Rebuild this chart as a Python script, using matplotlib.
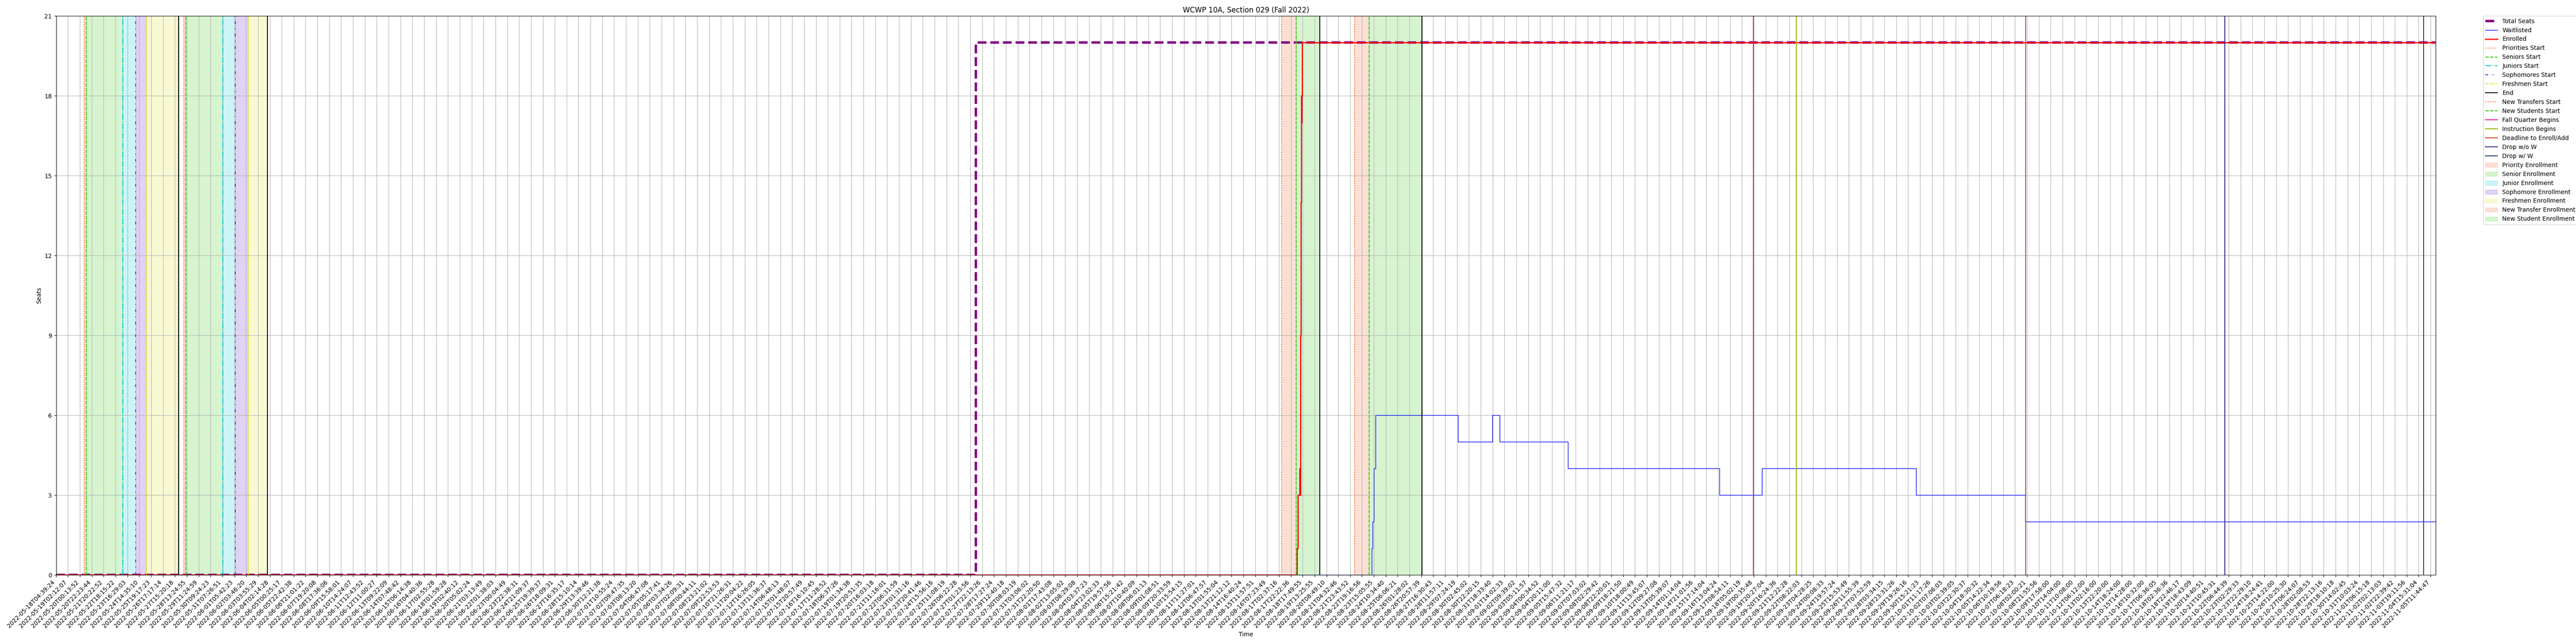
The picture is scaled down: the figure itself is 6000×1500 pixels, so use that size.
import numpy as np
import pandas as pd
import matplotlib
matplotlib.use('Agg')
import matplotlib.pyplot as plt


# one label per tick, the ticks are evenly spaced
tick_labels = [
    '2022-05-18T04:39:24', '2022-05-19T02:12:07', '2022-05-20T00:13:52', '2022-05-20T22:23:44',
    '2022-05-21T20:22:52', '2022-05-22T18:15:22', '2022-05-23T16:29:03', '2022-05-24T14:35:10',
    '2022-05-25T19:17:23', '2022-05-26T17:17:14', '2022-05-27T15:20:18', '2022-05-28T13:24:55',
    '2022-05-29T11:24:59', '2022-05-30T09:24:23', '2022-05-31T07:26:51', '2022-06-01T05:42:23',
    '2022-06-02T03:46:20', '2022-06-03T03:55:29', '2022-06-04T02:14:28', '2022-06-05T00:25:17',
    '2022-06-05T22:42:38', '2022-06-06T21:01:22', '2022-06-07T19:20:08', '2022-06-08T17:36:06',
    '2022-06-09T15:58:01', '2022-06-10T14:24:07', '2022-06-11T12:43:52', '2022-06-12T11:00:27',
    '2022-06-13T09:22:09', '2022-06-14T07:48:42', '2022-06-15T06:14:38', '2022-06-16T04:40:36',
    '2022-06-17T02:55:28', '2022-06-18T01:59:28', '2022-06-19T02:40:12', '2022-06-20T05:02:24',
    '2022-06-21T03:13:49', '2022-06-22T01:38:03', '2022-06-23T00:04:49', '2022-06-23T22:38:31',
    '2022-06-24T21:09:37', '2022-06-25T19:39:37', '2022-06-26T18:09:31', '2022-06-27T16:35:17',
    '2022-06-28T15:10:14', '2022-06-29T13:39:46', '2022-06-30T12:21:38', '2022-07-01T10:55:24',
    '2022-07-02T09:47:35', '2022-07-03T08:13:20', '2022-07-04T06:47:08', '2022-07-05T05:17:41',
    '2022-07-06T03:34:26', '2022-07-07T02:09:31', '2022-07-08T00:44:11', '2022-07-08T23:21:02',
    '2022-07-09T22:53:53', '2022-07-10T21:26:31', '2022-07-11T20:04:22', '2022-07-12T16:26:05',
    '2022-07-13T11:36:37', '2022-07-14T06:48:13', '2022-07-15T01:48:07', '2022-07-15T20:57:49',
    '2022-07-16T16:10:45', '2022-07-17T11:28:52', '2022-07-18T06:37:26', '2022-07-19T01:34:38',
    '2022-07-19T20:51:35', '2022-07-20T16:03:18', '2022-07-21T11:16:01', '2022-07-22T06:31:59',
    '2022-07-23T01:31:16', '2022-07-23T20:41:46', '2022-07-24T15:56:16', '2022-07-25T11:08:19',
    '2022-07-26T06:22:28', '2022-07-27T01:23:56', '2022-07-27T22:13:26', '2022-07-28T17:27:24',
    '2022-07-29T12:40:18', '2022-07-30T08:03:19', '2022-07-31T03:06:02', '2022-07-31T22:20:50',
    '2022-08-01T17:43:08', '2022-08-02T13:05:02', '2022-08-03T08:29:08', '2022-08-04T03:37:23',
    '2022-08-04T23:02:33', '2022-08-05T19:57:56', '2022-08-06T15:21:42', '2022-08-07T10:40:09',
    '2022-08-08T06:01:13', '2022-08-09T01:08:51', '2022-08-09T20:33:59', '2022-08-10T15:54:15',
    '2022-08-11T11:27:01', '2022-08-12T06:47:57', '2022-08-13T01:55:04', '2022-08-13T21:12:12',
    '2022-08-14T16:40:24', '2022-08-15T11:57:51', '2022-08-16T07:23:49', '2022-08-17T02:37:16',
    '2022-08-17T22:22:36', '2022-08-18T17:49:55', '2022-08-19T13:25:55', '2022-08-20T08:49:10',
    '2022-08-21T04:32:46', '2022-08-21T23:43:52', '2022-08-22T19:16:56', '2022-08-23T15:05:55',
    '2022-08-24T10:34:40', '2022-08-25T06:06:21', '2022-08-26T01:28:02', '2022-08-26T20:57:39',
    '2022-08-27T16:30:43', '2022-08-28T11:57:11', '2022-08-29T07:24:19', '2022-08-30T02:45:02',
    '2022-08-30T22:20:15', '2022-08-31T18:33:40', '2022-09-01T14:02:33', '2022-09-02T09:39:02',
    '2022-09-03T05:11:57', '2022-09-04T00:34:52', '2022-09-04T20:11:00', '2022-09-05T15:47:32',
    '2022-09-06T11:21:17', '2022-09-07T07:03:02', '2022-09-08T02:29:42', '2022-09-08T22:20:01',
    '2022-09-09T18:21:50', '2022-09-10T18:00:49', '2022-09-11T13:45:07', '2022-09-12T09:27:08',
    '2022-09-13T05:39:07', '2022-09-14T01:14:04', '2022-09-14T21:01:56', '2022-09-15T17:14:04',
    '2022-09-16T13:04:24', '2022-09-17T08:54:11', '2022-09-18T05:02:19', '2022-09-19T00:35:48',
    '2022-09-19T20:27:04', '2022-09-20T16:24:36', '2022-09-21T12:22:28', '2022-09-22T08:22:03',
    '2022-09-23T04:28:25', '2022-09-24T00:08:33', '2022-09-24T19:57:24', '2022-09-25T15:53:49',
    '2022-09-26T11:55:39', '2022-09-27T07:52:59', '2022-09-28T03:34:15', '2022-09-28T23:31:26',
    '2022-09-29T19:26:16', '2022-09-30T15:21:23', '2022-10-01T11:17:26', '2022-10-02T07:06:03',
    '2022-10-03T02:39:05', '2022-10-03T22:30:37', '2022-10-04T18:30:32', '2022-10-05T14:22:34',
    '2022-10-06T10:19:56', '2022-10-07T06:18:23', '2022-10-08T02:00:21', '2022-10-08T21:55:56',
    '2022-10-09T17:58:00', '2022-10-10T14:04:00', '2022-10-11T10:08:00', '2022-10-12T06:12:00',
    '2022-10-13T02:16:00', '2022-10-13T22:20:00', '2022-10-14T18:24:00', '2022-10-15T14:28:00',
    '2022-10-16T10:32:00', '2022-10-17T06:36:05', '2022-10-18T02:36:36', '2022-10-18T22:46:17',
    '2022-10-19T18:43:09', '2022-10-20T14:40:51', '2022-10-21T10:45:31', '2022-10-22T06:44:39',
    '2022-10-23T02:29:33', '2022-10-23T22:29:10', '2022-10-24T18:24:41', '2022-10-25T14:22:00',
    '2022-10-26T10:25:30', '2022-10-27T06:24:07', '2022-10-28T02:08:53', '2022-10-28T22:13:16',
    '2022-10-29T18:10:18', '2022-10-30T14:02:45', '2022-10-31T10:03:24', '2022-11-01T06:15:18',
    '2022-11-02T02:13:03', '2022-11-02T22:39:42', '2022-11-03T19:11:56', '2022-11-04T15:31:04',
    '2022-11-05T11:44:47',
]

total_times = ['2022-05-18T04:39:24', '2022-07-27T11:11', '2022-11-05T20:25']
total_seats = [0, 20, 20]

enrolled_times = ['2022-05-18T04:39:24', '2022-08-18T08:18', '2022-08-18T10:03', '2022-08-18T12:35',
                  '2022-08-18T13:45', '2022-08-18T14:08', '2022-08-18T14:20', '2022-08-18T14:55',
                  '2022-08-18T15:30', '2022-08-18T16:17', '2022-08-18T16:28', '2022-08-18T16:51',
                  '2022-11-05T20:25']
enrolled = [0, 1, 3, 4, 3, 4, 9, 14, 18, 17, 18, 20, 20]

waitlist_times = ['2022-05-18T04:39:24', '2022-08-23T11:44', '2022-08-23T12:54', '2022-08-23T14:54',
                  '2022-08-23T18:01', '2022-08-29T08:57', '2022-08-31T18:09', '2022-09-01T06:03',
                  '2022-09-05T22:26', '2022-09-16T15:15', '2022-09-19T14:17', '2022-09-30T08:47',
                  '2022-10-07T23:10', '2022-11-05T20:25']
waitlisted = [0, 1, 2, 4, 6, 5, 6, 5, 4, 3, 4, 3, 2, 2]

# enrollment passes: start of each class level, then end of the pass
first_pass = ['2022-05-20T08:00', '2022-05-20T12:00', '2022-05-23T08:00',
              '2022-05-24T08:00', '2022-05-25T08:00', '2022-05-27T22:00']
second_pass = ['2022-05-28T08:00', '2022-05-28T12:00', '2022-05-31T08:00',
               '2022-06-01T08:00', '2022-06-02T08:00', '2022-06-03T22:00']
# new transfers start, new students start, end
new_student_passes = [['2022-08-17T07:00', '2022-08-18T07:00', '2022-08-19T22:00'],
                      ['2022-08-22T07:00', '2022-08-23T07:00', '2022-08-26T22:00']]

quarter_events = ['Fall Quarter Begins', 'Instruction Begins', 'Deadline to Enroll/Add',
                  'Drop w/o W', 'Drop w/ W']
quarter_dates = ['2022-09-19T00:00', '2022-09-22T00:00', '2022-10-08T00:00',
                 '2022-10-22T00:00', '2022-11-05T00:00']


def secs(times):
    return pd.to_datetime(times, format='ISO8601').values.astype('datetime64[s]').astype(float)


tick_sec = secs(tick_labels)
tick_idx = np.arange(len(tick_labels), dtype=float)


def to_pos(times):
    t = secs(times)
    pos = np.interp(t, tick_sec, tick_idx)
    rate = 1.0 / (tick_sec[-1] - tick_sec[-2])
    return np.where(t > tick_sec[-1], tick_idx[-1] + (t - tick_sec[-1]) * rate, pos)


start_labels = ['Priorities Start', 'Seniors Start', 'Juniors Start', 'Sophomores Start', 'Freshmen Start']
span_labels = ['Priority Enrollment', 'Senior Enrollment', 'Junior Enrollment',
               'Sophomore Enrollment', 'Freshmen Enrollment']
start_colors = ['#f0602a', '#33cc11', '#00c8d2', '#6622cc', '#e0e020']
start_styles = [':', '--', '-.', (0, (3, 5, 1, 5)), (0, (3, 1, 1, 1))]
quarter_colors = ['#e6199a', '#8fb300', '#d2461e', '#2d2a96', '#2b3f5f']

fig, ax = plt.subplots(figsize=(60, 15), dpi=100)
fig.subplots_adjust(left=0.0218, right=0.9455, top=0.9753, bottom=0.1073)

ax.step(to_pos(total_times), total_seats, where='post', color='purple', ls='--', lw=4, label='Total Seats')
ax.step(to_pos(waitlist_times), waitlisted, where='post', color='blue', lw=1, label='Waitlisted')
ax.step(to_pos(enrolled_times), enrolled, where='post', color='red', lw=2, label='Enrolled')

seen = set()


def lab(name):
    if name in seen:
        return '_nolegend_'
    seen.add(name)
    return name


spans = []
for p in [first_pass, second_pass]:
    pos = to_pos(p)
    for i in range(5):
        ax.axvline(pos[i], color=start_colors[i], ls=start_styles[i], lw=1.5, label=lab(start_labels[i]))
        spans.append((pos[i], pos[i + 1], start_colors[i], span_labels[i]))
    ax.axvline(pos[5], color='black', lw=1.5, label=lab('End'))

for p in new_student_passes:
    pos = to_pos(p)
    ax.axvline(pos[0], color=start_colors[0], ls=':', lw=1.5, label=lab('New Transfers Start'))
    ax.axvline(pos[1], color=start_colors[1], ls='--', lw=1.5, label=lab('New Students Start'))
    ax.axvline(pos[2], color='black', lw=1.5, label=lab('End'))
    spans.append((pos[0], pos[1], start_colors[0], 'New Transfer Enrollment'))
    spans.append((pos[1], pos[2], start_colors[1], 'New Student Enrollment'))

for name, d, c in zip(quarter_events, to_pos(quarter_dates), quarter_colors):
    ax.axvline(d, color=c, lw=1.5, label=lab(name))

for a, b, c, name in spans:
    ax.axvspan(a, b, color=c, alpha=0.2, label=lab(name))

ax.set_xticks(tick_idx)
ax.set_xticklabels(tick_labels, rotation=45, ha='right')
ax.set_xlim(0, to_pos(total_times)[-1])
ax.set_ylim(0, 21)
ax.set_yticks(range(0, 22, 3))
ax.grid(True)
ax.set_title('WCWP 10A, Section 029 (Fall 2022)')
ax.set_xlabel('Time')
ax.set_ylabel('Seats')
ax.legend(loc='upper left', bbox_to_anchor=(1.02, 1), borderaxespad=0)

fig.savefig('out.png', dpi=100)
